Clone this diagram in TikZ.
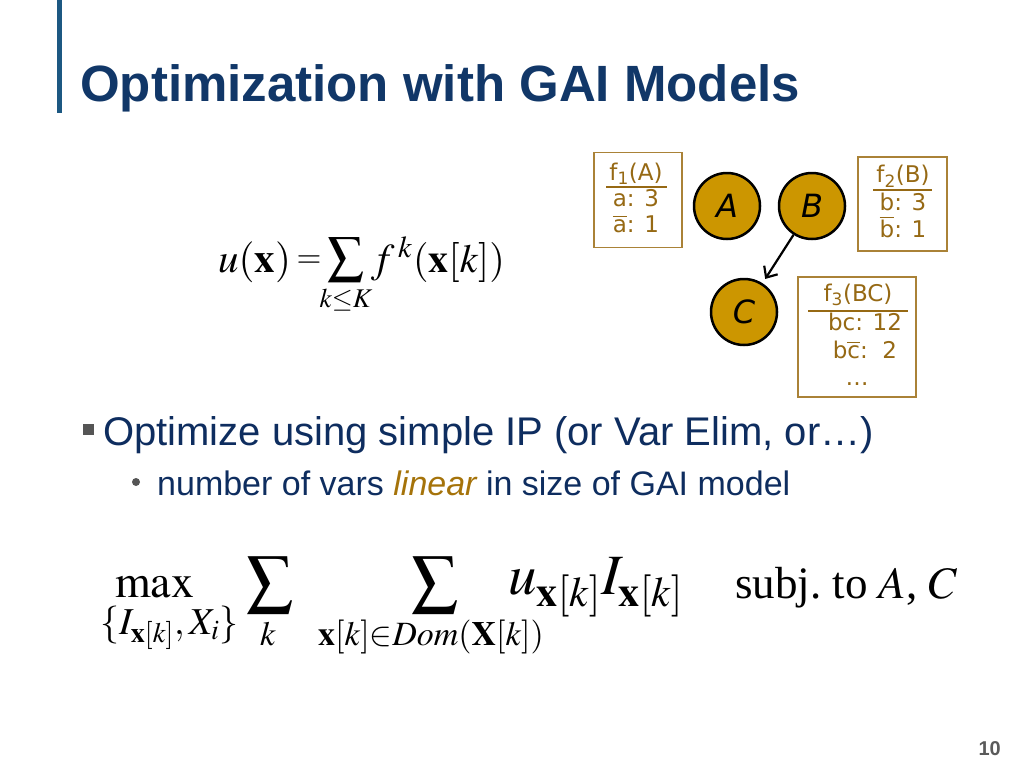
\documentclass[tikz,border=0pt]{standalone}
\usepackage{mathptmx}
\usepackage[no-math]{fontspec}
\setmainfont{Liberation Sans}
\newfontfamily\boxfont{DejaVu Sans}
\newfontfamily\serifrm{Liberation Serif}
\usetikzlibrary{arrows.meta}
\definecolor{barblue}{RGB}{28,88,130}
\definecolor{titleblue}{RGB}{17,55,104}
\definecolor{bodyblue}{RGB}{14,45,95}
\definecolor{bulletgray}{RGB}{85,85,85}
\definecolor{gold}{RGB}{165,115,10}
\definecolor{numgray}{RGB}{90,90,90}
\definecolor{mustard}{RGB}{204,150,0}
\definecolor{tblborder}{RGB}{170,130,55}
\definecolor{tbltext}{RGB}{150,105,20}
\newcommand{\ovl}[1]{\ensuremath{\overline{\hbox{#1}}}}
\tikzset{
  var/.style={circle, draw=black, line width=2.5pt, fill=mustard, minimum size=66pt, inner sep=0, font=\boxfont\itshape\fontsize{32}{38}\selectfont},
  tbl/.style={draw=tblborder, line width=1.2pt, inner sep=0},
  tbltxt/.style={inner sep=0, text=tbltext, font=\boxfont\fontsize{23}{28}\selectfont},
  tblrule/.style={draw=tbltext, line width=1.5pt},
  eq/.style={inner sep=0, text=black},
}
\begin{document}
\begin{tikzpicture}[x=1pt,y=-1pt]
\useasboundingbox (0,0) rectangle (1024,768);
\fill[barblue] (57,0) rectangle (62,113);
\node[anchor=base west, inner sep=0, text=titleblue, font=\fontsize{51}{60}\selectfont\bfseries] (title) at (80,101) {Optimization with GAI Models};

% formula 1
\node[eq, anchor=base west, font=\fontsize{41}{46}\selectfont] (ux) at (218,272) {$u(\mathbf{x})$};
\node[eq, font=\fontsize{32}{36}\selectfont] (eqsign) at (309,262) {$=$};
\node[eq, font=\fontsize{36}{40}\selectfont] (sumone) at (346,260) {$\displaystyle\sum$};
\node[eq, anchor=base, font=\fontsize{27}{30}\selectfont] (sumonesub) at (346,307) {$k{\le}K$};
\node[eq, anchor=base west, font=\fontsize{41}{46}\selectfont] (fk) at (371,272) {$f^{\,k}$};
\node[eq, anchor=base east, font=\fontsize{40}{46}\selectfont] (arg) at (505,272) {$(\mathbf{x}[k])$};

% graph
\node[var] (A) at (727,206) {A};
\node[var] (B) at (812,206) {B};
\node[var] (C) at (744,312) {C};
\draw[line width=2.2pt, -{Straight Barb[length=9pt,width=16pt]}, shorten >=5pt] (B) -- (C);

% tables
\node[tbl, minimum width=88pt, minimum height=95pt] (t1) at (638,200) {};
\node[tbltxt] (t1h) at (636,174) {f\textsubscript{1}(A)};
\draw[tblrule] (606,187) -- (667,187);
\node[tbltxt] (t1a) at (636,198) {a: 3};
\node[tbltxt] (t1b) at (636,224) {\ovl{a}: 1};

\node[tbl, minimum width=89pt, minimum height=94pt] (t2) at (902.5,204) {};
\node[tbltxt] (t2h) at (903,176) {f\textsubscript{2}(B)};
\draw[tblrule] (873,190) -- (932,190);
\node[tbltxt] (t2a) at (903,202) {b: 3};
\node[tbltxt] (t2b) at (903,227) {\ovl{b}: 1};

\node[tbl, minimum width=118pt, minimum height=120pt] (t3) at (857,337) {};
\node[tbltxt] (t3h) at (858,295) {f\textsubscript{3}(BC)};
\draw[tblrule] (808,311) -- (908,311);
\node[tbltxt] (t3a) at (865,322) {bc: 12};
\node[tbltxt] (t3b) at (865,350) {b\ovl{c}:\ \ 2};
\node[tbltxt, anchor=base] (t3c) at (857,385) {…};

% bullets
\node[fill=bulletgray, minimum size=11pt, inner sep=0] (sq) at (88,429) {};
\node[anchor=base west, inner sep=0, text=bodyblue, font=\fontsize{40}{48}\selectfont] (b1) at (103,445) {Optimize using simple IP (or Var Elim, or…)};
\node[circle, fill=bulletgray, minimum size=8pt, inner sep=0] (dot) at (136,482) {};
\node[anchor=base west, inner sep=0, text=bodyblue, font=\fontsize{34}{40}\selectfont] (b2) at (157,495) {number of vars \textcolor{gold}{\itshape linear} in size of GAI model};

% formula 2
\node[eq, anchor=base west, font=\fontsize{46}{50}\selectfont] (mx) at (115,597) {$\max$};
\node[eq, anchor=base west, font=\fontsize{38}{44}\selectfont] (mxsub) at (100,634) {$\{I_{\mathbf{x}[k]},X_i\}$};
\node[eq, font=\fontsize{46}{50}\selectfont] (s1) at (270,585) {$\displaystyle\sum$};
\node[eq, anchor=base, font=\fontsize{34}{40}\selectfont] (s1sub) at (268,645) {$k$};
\node[eq, font=\fontsize{46}{50}\selectfont] (s2) at (435,585) {$\displaystyle\sum$};
\node[eq, anchor=base, font=\fontsize{34}{40}\selectfont] (s2sub) at (431,645) {$\mathbf{x}[k]{\in}Dom(\mathbf{X}[k])$};
\node[eq, anchor=base west, font=\fontsize{57}{62}\selectfont] (ui) at (508,594) {$u_{\mathbf{x}[k]}I_{\mathbf{x}[k]}$};
\node[eq, anchor=base west, font=\fontsize{45}{50}\selectfont] (subj) at (735,598) {\serifrm subj.\ to $A$, $C$};

\node[anchor=base east, inner sep=0, text=numgray, font=\fontsize{20}{24}\selectfont\bfseries] (pg) at (1001,755) {10};
\end{tikzpicture}
\end{document}
